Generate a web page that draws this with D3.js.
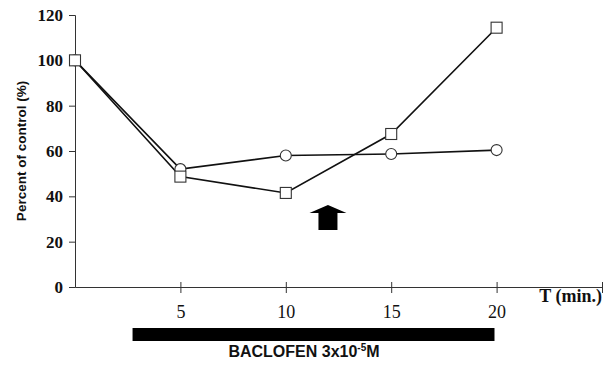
<!DOCTYPE html>
<html>
<head>
<meta charset="utf-8">
<script src="https://cdn.jsdelivr.net/npm/d3@7"></script>
<style>
  body { margin: 0; background: #fff; }
  svg { display: block; }
</style>
</head>
<body>
<div id="chart"></div>
<script>
// data
const times = [0, 5, 10, 15, 20];
const squareValues = [100, 48.7, 41.5, 67.5, 114.4];
const circleValues = [100, 52, 58, 58.7, 60.4];
const xTicks = [5, 10, 15, 20, 25];
const yTicks = [0, 20, 40, 60, 80, 100, 120];
const drugBar = [2.73, 19.9];
const arrowAt = { t: 12.0, top: 36.2, bottom: 25.1 };

const width = 604;
const height = 366;

const svg = d3.select('#chart')
  .append('svg')
  .attr('width', width)
  .attr('height', height);

/* Scales */
const x = d3.scaleLinear().domain([0, 25]).range([75, 602]);
const y = d3.scaleLinear().domain([0, 120]).range([287, 15]);

/* Axes */
const yAxis = d3.axisLeft(y).tickValues(yTicks).tickSize(6).tickPadding(6);
const gy = svg.append('g')
  .attr('transform', `translate(${x(0)},0)`)
  .call(yAxis);
gy.select('.domain').attr('stroke', '#333');
gy.selectAll('.tick line').attr('stroke', '#333');
gy.selectAll('.tick text')
  .style('font-family', '"Liberation Serif", serif')
  .style('font-weight', 'bold')
  .style('font-size', '17px')
  .attr('fill', '#111');

const xAxis = d3.axisBottom(x).tickValues(xTicks).tickSizeInner(6).tickSizeOuter(0).tickPadding(12)
  .tickFormat(d => (d === 25 ? '' : d));
const gx = svg.append('g')
  .attr('transform', `translate(0,${y(0)})`)
  .call(xAxis);
gx.select('.domain').attr('stroke', '#333');
gx.selectAll('.tick line').attr('stroke', '#333').attr('y1', -5);
gx.selectAll('.tick text')
  .style('font-family', '"Liberation Serif", serif')
  .style('font-size', '18px')
  .attr('fill', '#111');

svg.append('text')
  .attr('x', 602)
  .attr('y', 302)
  .attr('text-anchor', 'end')
  .style('font-family', '"Liberation Serif", serif')
  .style('font-weight', 'bold')
  .style('font-size', '18px')
  .attr('fill', '#111')
  .text('T (min.)');

svg.append('text')
  .attr('transform', `translate(26,${(y(0) + y(120)) / 2}) rotate(-90)`)
  .attr('text-anchor', 'middle')
  .style('font-family', '"Liberation Sans", Arial, sans-serif')
  .style('font-weight', 'bold')
  .style('font-size', '13.5px')
  .attr('fill', '#111')
  .text('Percent of control (%)');

/* Drug application bar */
svg.append('rect')
  .attr('x', x(drugBar[0]))
  .attr('y', 328)
  .attr('width', x(drugBar[1]) - x(drugBar[0]))
  .attr('height', 13)
  .attr('fill', '#000');

const lab = svg.append('text')
  .attr('x', 304)
  .attr('y', 357)
  .attr('text-anchor', 'middle')
  .style('font-family', '"Liberation Sans", Arial, sans-serif')
  .style('font-weight', 'bold')
  .style('font-size', '16px')
  .attr('fill', '#111');
lab.append('tspan').text('BACLOFEN 3x10');
lab.append('tspan').attr('dy', -6).style('font-size', '10px').text('-5');
lab.append('tspan').attr('dy', 6).text('M');

/* Lines */
const line = d3.line()
  .x((d, i) => x(times[i]))
  .y(d => y(d));

svg.append('path')
  .attr('d', line(circleValues))
  .attr('fill', 'none')
  .attr('stroke', '#111')
  .attr('stroke-width', 1.6);

svg.append('path')
  .attr('d', line(squareValues))
  .attr('fill', 'none')
  .attr('stroke', '#111')
  .attr('stroke-width', 1.6);

/* Markers */
svg.append('g')
  .selectAll('circle')
  .data(circleValues)
  .enter()
  .append('circle')
  .attr('cx', (d, i) => x(times[i]))
  .attr('cy', d => y(d))
  .attr('r', 5.5)
  .attr('fill', '#fff')
  .attr('stroke', '#333')
  .attr('stroke-width', 1.1);

const sq = 11;
svg.append('g')
  .selectAll('rect')
  .data(squareValues)
  .enter()
  .append('rect')
  .attr('x', (d, i) => x(times[i]) - sq / 2)
  .attr('y', d => y(d) - sq / 2)
  .attr('width', sq)
  .attr('height', sq)
  .attr('fill', '#fff')
  .attr('stroke', '#333')
  .attr('stroke-width', 1.1);

/* Arrow */
const ax = x(arrowAt.t);
const aTop = y(arrowAt.top);
const aBot = y(arrowAt.bottom);
const headW = 18.5, shaftW = 9.5, headH = 8;
svg.append('path')
  .attr('d', `M${ax},${aTop} L${ax + headW},${aTop + headH} L${ax + shaftW},${aTop + headH}
    L${ax + shaftW},${aBot} L${ax - shaftW},${aBot} L${ax - shaftW},${aTop + headH}
    L${ax - headW},${aTop + headH} Z`)
  .attr('fill', '#000');
</script>
</body>
</html>
